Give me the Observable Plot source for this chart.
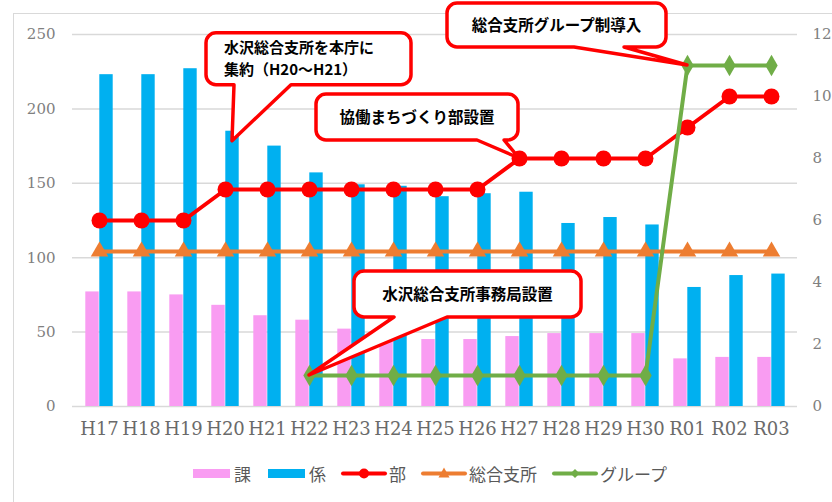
<!DOCTYPE html>
<html>
<head>
<meta charset="utf-8">
<script src="https://cdn.jsdelivr.net/npm/d3@7"></script>
<script src="https://cdn.jsdelivr.net/npm/@observablehq/plot@0.6"></script>
<style>
  html, body { margin: 0; padding: 0; background: #fff; }
  body { width: 832px; height: 502px; overflow: hidden; position: relative; }
  #frame { position: absolute; left: 13px; top: 13px; width: 900px; height: 600px;
           border: 1.5px solid #d9d9d9; box-sizing: border-box; }
  #chart { position: absolute; left: 0; top: 0; }
  #chart svg { font-family: "DejaVu Serif", "Liberation Serif", serif !important; }
  #legend { position: absolute; left: 193px; top: 461px; height: 24px; display: flex; align-items: center;
            font-family: "Noto Sans CJK JP", sans-serif; font-size: 17px; color: #595959; }
  .item { display: flex; align-items: center; margin-right: 17px; }
  .item span { margin-left: 4px; }
</style>
</head>
<body>
<div id="frame"></div>
<div id="chart"></div>
<div id="legend"></div>
<script>
// ---- data ----
const categories = ["H17","H18","H19","H20","H21","H22","H23","H24","H25","H26","H27","H28","H29","H30","R01","R02","R03"];
const ka     = [77, 77, 75, 68, 61, 58, 52, 44, 45, 45, 47, 49, 49, 49, 32, 33, 33];          // 課 (left axis)
const kakari = [223, 223, 227, 185, 175, 157, 149, 148, 141, 143, 144, 123, 127, 122, 80, 88, 89]; // 係 (left axis)
const bu     = [6, 6, 6, 7, 7, 7, 7, 7, 7, 7, 8, 8, 8, 8, 9, 10, 10];  // 部 (right axis)
const sogo   = [5, 5, 5, 5, 5, 5, 5, 5, 5, 5, 5, 5, 5, 5, 5, 5, 5];   // 総合支所 (right axis)
const group  = [null, null, null, null, null, 1, 1, 1, 1, 1, 1, 1, 1, 1, 11, 11, 11]; // グループ (right axis)
const leftTicks  = [0, 50, 100, 150, 200, 250];
const rightTicks = [0, 2, 4, 6, 8, 10, 12];
const seriesNames = ["課", "係", "部", "総合支所", "グループ"];

const callouts = [
  { lines: ["水沢総合支所を本庁に", "集約（H20～H21）"], cat: "H20", series: "kakari" },
  { lines: ["協働まちづくり部設置"], cat: "H27", series: "bu" },
  { lines: ["総合支所グループ制導入"], cat: "R01", series: "group" },
  { lines: ["水沢総合支所事務局設置"], cat: "H22", series: "group" }
];

// ---- layout (pixels, relative to the anchor point) ----
const calloutLayout = [
  { dx: 7, dy: 10, l: -26, r: 179, t: -108, b: -56, b1: 2, b2: 59, align: "start", pad: 18 },
  { dx: 0, dy: 0, l: -203, r: -1, t: -64, b: -18, b1: -42, b2: -15, align: "middle" },
  { dx: 0, dy: 0, l: -240, r: -21, t: -62, b: -18, b1: -113, b2: -63, align: "middle" },
  { dx: 0, dy: 0, l: 45, r: 272, t: -104, b: -58, b1: 85, b2: 138, align: "middle" }
];

const k = 250 / 12; // right-axis units -> left-axis units
const rows = categories.map((c, i) => ({
  cat: c, ka: ka[i], kakari: kakari[i], bu: bu[i], sogo: sogo[i], group: group[i]
}));
const rightScaled = v => (v == null ? NaN : v * k);

const colors = { ka: "#f99cf2", kakari: "#00b0f0", bu: "#ff0000", sogo: "#ed7d31", group: "#70ad47" };
const serif = "DejaVu Serif";

const chart = Plot.plot({
  width: 832, height: 445,
  marginLeft: 72, marginRight: 35, marginTop: 34, marginBottom: 39,
  x: { type: "band", domain: categories, padding: 0 },
  y: { domain: [0, 250] },
  style: { fontFamily: serif, background: "transparent", overflow: "visible" },
  marks: [
    Plot.gridY(leftTicks, { stroke: "#d9d9d9", strokeOpacity: 1, strokeWidth: 1.5 }),
    Plot.barY(rows, { x: "cat", y: "ka", fill: colors.ka, insetLeft: 7.3, insetRight: 21.3 }),
    Plot.barY(rows, { x: "cat", y: "kakari", fill: colors.kakari, insetLeft: 21.3, insetRight: 7.3 }),
    Plot.lineY(rows, { x: "cat", y: d => rightScaled(d.bu), stroke: colors.bu, strokeWidth: 4 }),
    Plot.dot(rows, { x: "cat", y: d => rightScaled(d.bu), r: 8, fill: colors.bu, stroke: "none" }),
    Plot.lineY(rows, { x: "cat", y: d => rightScaled(d.sogo), stroke: colors.sogo, strokeWidth: 4 }),
    Plot.dot(rows, { x: "cat", y: d => rightScaled(d.sogo), symbol: "triangle", r: 6.5, fill: colors.sogo, stroke: "none" }),
    Plot.lineY(rows, { x: "cat", y: d => rightScaled(d.group), stroke: colors.group, strokeWidth: 4 }),
    Plot.dot(rows, { x: "cat", y: d => rightScaled(d.group), symbol: "diamond", r: 6.5, fill: colors.group, stroke: "none" }),
    Plot.axisX({ tickSize: 0, tickPadding: 16, fontSize: 18, fontFamily: serif, color: "#6a6a6a", label: null }),
    Plot.axisY(leftTicks, { anchor: "left", tickSize: 0, tickPadding: 17, fontSize: 15, fontFamily: serif, color: "#808080", label: null }),
    Plot.axisY(rightTicks.map(v => v * k), { anchor: "right", tickSize: 0, tickPadding: 15, fontSize: 15, fontFamily: serif, color: "#808080",
      tickFormat: d => String(Math.round(d / k)), label: null })
  ]
});
document.getElementById("chart").appendChild(chart);

// ---- callouts, anchored through the chart's own scales ----
const xs = chart.scale("x"), ys = chart.scale("y");
const bw = xs.bandwidth;
const svg = d3.select(chart);
const g = svg.append("g").attr("class", "callouts");
callouts.forEach((c, i) => {
  const L = calloutLayout[i];
  const row = rows.find(r => r.cat === c.cat);
  const val = c.series === "kakari" || c.series === "ka" ? row[c.series] : rightScaled(row[c.series]);
  const tx = xs.apply(c.cat) + bw / 2 + L.dx;
  const ty = ys.apply(val) + L.dy;
  const x0 = tx + L.l, x1 = tx + L.r, y0 = ty + L.t, y1 = ty + L.b;
  const bx1 = tx + L.b1, bx2 = tx + L.b2, rad = 10;
  const p = `M${x0 + rad},${y0} H${x1 - rad} A${rad},${rad} 0 0 1 ${x1},${y0 + rad} V${y1 - rad} A${rad},${rad} 0 0 1 ${x1 - rad},${y1} H${bx2} L${tx},${ty} L${bx1},${y1} H${x0 + rad} A${rad},${rad} 0 0 1 ${x0},${y1 - rad} V${y0 + rad} A${rad},${rad} 0 0 1 ${x0 + rad},${y0} Z`;
  g.append("path").attr("d", p).attr("fill", "#fff").attr("stroke", "#ff0000")
    .attr("stroke-width", 3.5).attr("stroke-linejoin", "round");
  const n = c.lines.length, lh = 22;
  const cy = (y0 + y1) / 2;
  const tx0 = L.align === "start" ? x0 + L.pad : (x0 + x1) / 2;
  c.lines.forEach((t, j) => {
    g.append("text")
      .attr("text-anchor", L.align)
      .attr("x", tx0)
      .attr("y", cy + (j - (n - 1) / 2) * lh)
      .attr("dy", "0.36em")
      .style("font-family", "'Noto Sans CJK JP', sans-serif")
      .style("font-weight", "bold")
      .style("font-size", n > 1 ? "15px" : "15.5px")
      .attr("fill", "#000")
      .text(t);
  });
});

// ---- legend ----
const legendDefs = [
  { name: seriesNames[0], kind: "bar", color: colors.ka },
  { name: seriesNames[1], kind: "bar", color: colors.kakari },
  { name: seriesNames[2], kind: "line", color: colors.bu, sym: "circle" },
  { name: seriesNames[3], kind: "line", color: colors.sogo, sym: "triangle" },
  { name: seriesNames[4], kind: "line", color: colors.group, sym: "diamond" }
];
const legend = document.getElementById("legend");
legendDefs.forEach(d => {
  const item = document.createElement("div");
  item.className = "item";
  const w = d.kind === "bar" ? 37 : 42;
  let inner;
  if (d.kind === "bar") {
    inner = `<rect x="0" y="8" width="${w}" height="9" fill="${d.color}"/>`;
  } else {
    let m;
    const cx = w / 2, cy = 12.5;
    if (d.sym === "circle") m = `<circle cx="${cx}" cy="${cy}" r="5" fill="${d.color}"/>`;
    else if (d.sym === "triangle") m = `<path d="M${cx},${cy - 6} L${cx + 5.5},${cy + 4} L${cx - 5.5},${cy + 4} Z" fill="${d.color}"/>`;
    else m = `<path d="M${cx},${cy - 4.5} L${cx + 4.5},${cy} L${cx},${cy + 4.5} L${cx - 4.5},${cy} Z" fill="${d.color}"/>`;
    inner = `<line x1="0" y1="${cy}" x2="${w}" y2="${cy}" stroke="${d.color}" stroke-width="4" stroke-linecap="round"/>${m}`;
  }
  item.innerHTML = `<svg width="${w}" height="24" style="overflow:visible">${inner}</svg><span>${d.name}</span>`;
  legend.appendChild(item);
});
</script>
</body>
</html>
